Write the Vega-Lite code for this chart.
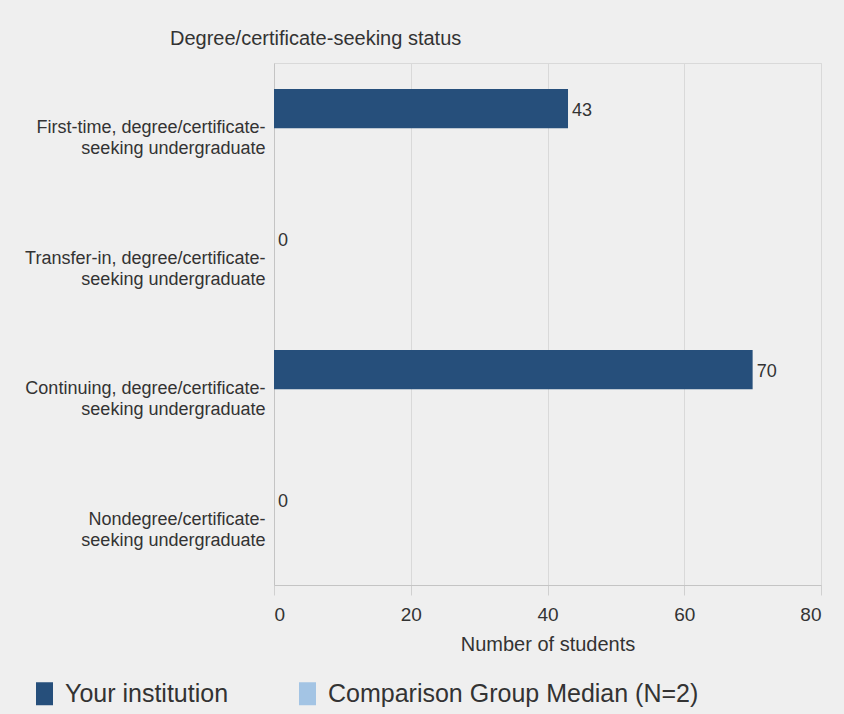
{
  "$schema": "https://vega.github.io/schema/vega-lite/v6.json",
  "width": 547,
  "height": 522,
  "autosize": {"type": "none"},
  "padding": {"left": 274, "top": 63, "right": 23, "bottom": 129},
  "background": "#efefef",
  "title": {
    "text": "Degree/certificate-seeking status",
    "anchor": "start",
    "frame": "group",
    "dx": -104,
    "offset": 14,
    "fontSize": 20,
    "fontWeight": "normal",
    "font": "Liberation Sans",
    "color": "#333333"
  },
  "data": {
    "values": [
      {"status": "First-time, degree/certificate-seeking undergraduate", "group": "Your institution", "students": 43},
      {"status": "Transfer-in, degree/certificate-seeking undergraduate", "group": "Your institution", "students": 0},
      {"status": "Continuing, degree/certificate-seeking undergraduate", "group": "Your institution", "students": 70},
      {"status": "Nondegree/certificate-seeking undergraduate", "group": "Your institution", "students": 0}
    ]
  },
  "encoding": {
    "y": {
      "field": "status",
      "type": "nominal",
      "sort": null,
      "scale": {"paddingInner": 0.4, "paddingOuter": 0.2},
      "axis": {
        "title": null,
        "ticks": false,
        "grid": false,
        "labelPadding": 9,
        "labelFontSize": 18,
        "labelLineHeight": 21,
        "labelFont": "Liberation Sans",
        "labelColor": "#333333",
        "labelLimit": 300,
        "domainColor": "#c4c4c4",
        "labelExpr": "split(replace(datum.label, 'certificate-seeking', 'certificate-|seeking'), '|')"
      }
    },
    "yOffset": {
      "field": "group",
      "type": "nominal",
      "scale": {"domain": ["Your institution", "Comparison Group Median (N=2)"], "paddingInner": 0, "paddingOuter": 0}
    },
    "x": {
      "field": "students",
      "type": "quantitative",
      "scale": {"domain": [0, 80]},
      "axis": {
        "title": "Number of students",
        "values": [0, 20, 40, 60, 80],
        "tickSize": 10,
        "tickColor": "#d0d0d0",
        "domainColor": "#c4c4c4",
        "gridColor": "#d9d9d9",
        "labelPadding": 10,
        "labelFontSize": 19,
        "labelFont": "Liberation Sans",
        "labelColor": "#333333",
        "titleFontSize": 20,
        "titleFont": "Liberation Sans",
        "titleFontWeight": "normal",
        "titleColor": "#333333",
        "titlePadding": 10
      }
    }
  },
  "layer": [
    {
      "mark": {"type": "bar"},
      "encoding": {
        "color": {
          "field": "group",
          "type": "nominal",
          "scale": {"domain": ["Your institution", "Comparison Group Median (N=2)"], "range": ["#264f7b", "#a3c4e4"]},
          "legend": {
            "title": null,
            "orient": "none",
            "direction": "horizontal",
            "legendX": -242,
            "legendY": 618,
            "symbolType": "M-0.74,-1H0.74V1H-0.74Z",
            "symbolSize": 529,
            "symbolStrokeWidth": 0,
            "labelFontSize": 25,
            "labelFont": "Liberation Sans",
            "labelColor": "#333333",
            "labelOffset": 8,
            "labelLimit": 500,
            "columnPadding": 66
          }
        }
      }
    },
    {
      "mark": {"type": "text", "align": "left", "baseline": "middle", "dx": 4, "dy": 2, "fontSize": 18, "font": "Liberation Sans", "color": "#333333"},
      "encoding": {
        "text": {"field": "students", "type": "quantitative"}
      }
    }
  ],
  "config": {
    "view": {"stroke": "#d9d9d9"}
  }
}
